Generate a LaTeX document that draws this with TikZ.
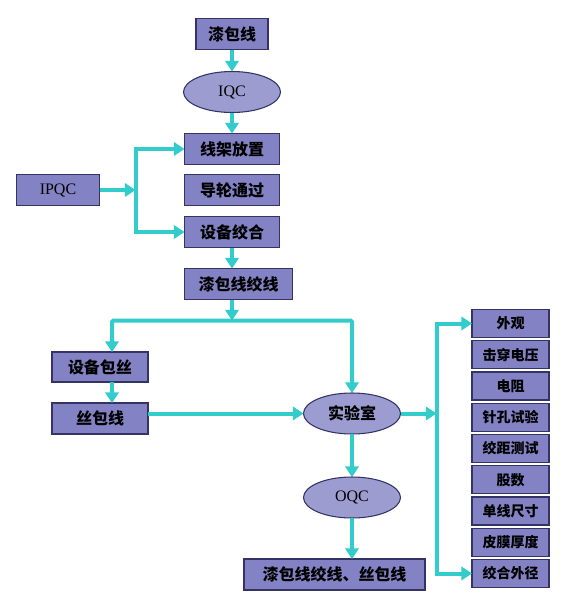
\documentclass[tikz,border=0pt]{standalone}
\usepackage{fontspec}
\setmainfont{Liberation Serif}
\newfontfamily\cjk{Noto Sans CJK SC}
\usepackage{tikz}
\usetikzlibrary{shapes.geometric,arrows.meta,positioning,calc}
\definecolor{boxfill}{RGB}{130,130,196}
\definecolor{ovalfill}{RGB}{156,156,208}
\definecolor{edge}{RGB}{51,51,102}
\definecolor{flow}{RGB}{51,204,204}

\begin{document}
\begin{tikzpicture}[
    x=0.75pt, y=-0.75pt,
    node distance=15.75pt,
    every node/.style={font=\fontsize{12}{14}\selectfont\bfseries\cjk},
    box/.style={
      rectangle, draw=edge, line width=0.8pt, fill=boxfill,
      minimum width=71.25pt, minimum height=23.25pt,
      inner sep=0pt, outer sep=0pt, align=center
    },
    testbox/.style={
      box, minimum width=57.75pt, minimum height=21pt,
      font=\fontsize{10.5}{12}\selectfont\bfseries\cjk
    },
    oval/.style={
      ellipse, draw=edge, line width=0.8pt, fill=ovalfill,
      minimum width=72.75pt, minimum height=30.75pt,
      inner sep=0pt, outer sep=0pt
    },
    latin/.style={font=\fontsize{12}{14}\selectfont},
    arr/.style={-{Triangle[length=8pt,width=10pt]}, line width=3pt, draw=flow},
    bar/.style={line width=3pt, draw=flow}
  ]
  \useasboundingbox (0,0) rectangle (582,594);

  % Incoming wire and first station
  \node[box, minimum width=54pt] (lacq) at (232,34) {漆包线};
  \node[oval, latin, below=16.5pt of lacq] (iqc) {IQC};
  \node[box, below=of iqc] (frame) {线架放置};
  \node[box, below=7.5pt of frame] (guide) {导轮通过};
  \node[box, below=8.25pt of guide] (twisting) {设备绞合};
  \node[box, minimum width=81pt, below=15.75pt of twisting.south west,
        anchor=north west] (twisted) {漆包线绞线};

  % In-process check
  \node[box, latin, minimum width=62.25pt, left=63.75pt of guide] (ipqc) {IPQC};
  \coordinate (fork) at ($(ipqc.east)+(36,0)$);

  % Silk wrapping branch
  \node[box, minimum width=72pt, minimum height=22.5pt] (wrapping) at (100,367) {设备包丝};
  \node[box, minimum width=72pt, below=15.75pt of wrapping] (silk) {丝包线};

  % Lab and final check
  \node[oval] (lab) at (352,413.5) {实验室};
  \node[oval, latin, below=32.25pt of lab] (oqc) {OQC};
  \node[box, minimum width=135.75pt] (final) at (334.5,574.5) {漆包线绞线、丝包线};

  % Lab test items
  \foreach \name [count=\i] in {外观,击穿电压,电阻,针孔试验,绞距测试,股数,单线尺寸,皮膜厚度,绞合外径}
    \node[testbox] (t\i) at (510.5,{323.5+31.25*(\i-1)}) {\name};

  \coordinate (split) at ($(twisting |- twisted.south)+(0,21)$);
  \coordinate (wrapin) at ($(split)+(-120,0)$);
  \coordinate (labin) at (lab |- split);
  \coordinate (bus) at ($(lab.east)+(36,0)$);

  % Arrows
  \draw[arr] (lacq) -- (iqc);
  \draw[arr] (iqc) -- (frame);
  \draw[arr] (ipqc) -- (fork);
  \draw[arr] (fork) |- (frame);
  \draw[arr] (fork) |- (twisting);
  \draw[arr] (twisting) -- (twisting |- twisted.north);
  \draw[arr] (twisting |- twisted.south) -- (split);
  \draw[arr, rounded corners=1pt] (split) -- (wrapin) -- (wrapin |- wrapping.north);
  \draw[arr, rounded corners=1pt] (split) -- (labin) -- (lab);
  \draw[arr] ([xshift=9pt]wrapping.south) -- ([xshift=9pt]silk.north);
  \draw[arr] (silk.east |- lab) -- (lab);
  \draw[arr] (lab) -- (oqc);
  \draw[arr] (oqc) -- (oqc |- final.north);
  \draw[arr] (lab) -- (bus);
  \draw[arr] (bus) |- (t1);
  \draw[arr] (bus) |- (t9);

\end{tikzpicture}
\end{document}
